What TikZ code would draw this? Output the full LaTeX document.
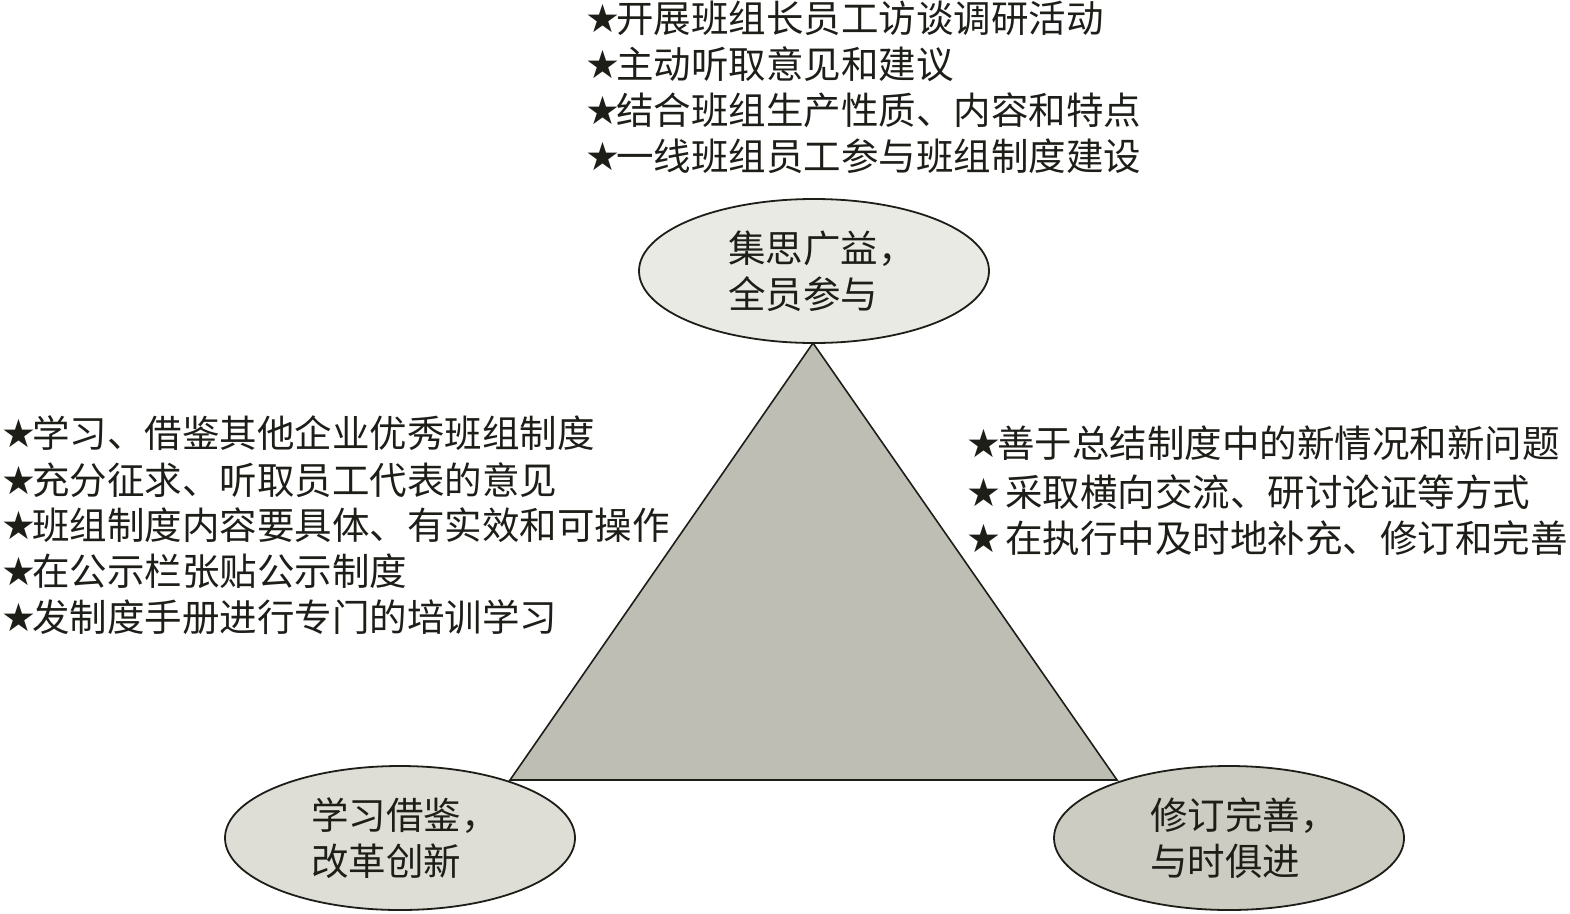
\documentclass[tikz,border=0pt]{standalone}
\usepackage{fontspec}
\usetikzlibrary{shapes.geometric}
\setmainfont{Noto Sans CJK SC}
\newfontfamily\dejavu{DejaVu Sans}
\definecolor{ink}{RGB}{30,30,25}
\definecolor{trifill}{RGB}{190,190,181}
\definecolor{topfill}{RGB}{234,234,228}
\definecolor{leftfill}{RGB}{222,222,214}
\definecolor{rightfill}{RGB}{204,204,194}
\newcommand\stm{\makebox[31pt][l]{\smash{\dejavu\fontsize{39}{39}\selectfont ★}}}
\begin{document}
\begin{tikzpicture}[x=1pt,y=-1pt,
  item/.style={anchor=west,inner sep=0pt,text=ink,font=\fontsize{37.5}{44}\selectfont},
  oval/.style={ellipse,draw=ink,line width=1.8pt,minimum width=350pt,minimum height=144pt,inner sep=0pt,align=left,text=ink,font=\fontsize{37.5}{46}\selectfont}]
\useasboundingbox (0,0) rectangle (1570,913);
% triangle
\coordinate (apex) at (813,343);
\coordinate (bl) at (510,780);
\coordinate (br) at (1117,780);
\filldraw[fill=trifill,draw=ink,line width=1.6pt,line join=miter] (apex) -- (bl) -- (br) -- cycle;
% ellipses
\node[oval,fill=topfill] (top) at (814,271) {\hspace*{16pt}集思广益，\\\hspace*{16pt}全员参与};
\node[oval,fill=leftfill] (left) at (400,838) {\hspace*{10pt}学习借鉴，\\\hspace*{10pt}改革创新};
\node[oval,fill=rightfill] (right) at (1229,838) {\hspace*{30pt}修订完善，\\\hspace*{30pt}与时俱进};
% top list
\node[item] (t1) at (585,18) {\stm 开展班组长员工访谈调研活动};
\node[item] (t2) at (585,64) {\stm 主动听取意见和建议};
\node[item] (t3) at (585,110) {\stm 结合班组生产性质、内容和特点};
\node[item] (t4) at (585,156) {\stm 一线班组员工参与班组制度建设};
% left list
\node[item] (l1) at (1,433) {\stm 学习、借鉴其他企业优秀班组制度};
\node[item] (l2) at (1,480) {\stm 充分征求、听取员工代表的意见};
\node[item] (l3) at (1,525) {\stm 班组制度内容要具体、有实效和可操作};
\node[item] (l4) at (1,571) {\stm 在公示栏张贴公示制度};
\node[item] (l5) at (1,617) {\stm 发制度手册进行专门的培训学习};
% right list
\node[item] (r1) at (966,443) {\stm 善于总结制度中的新情况和新问题};
\node[item] (r2) at (966,492) {\stm\hspace{8pt}采取横向交流、研讨论证等方式};
\node[item] (r3) at (966,538) {\stm\hspace{8pt}在执行中及时地补充、修订和完善};
\end{tikzpicture}
\end{document}
